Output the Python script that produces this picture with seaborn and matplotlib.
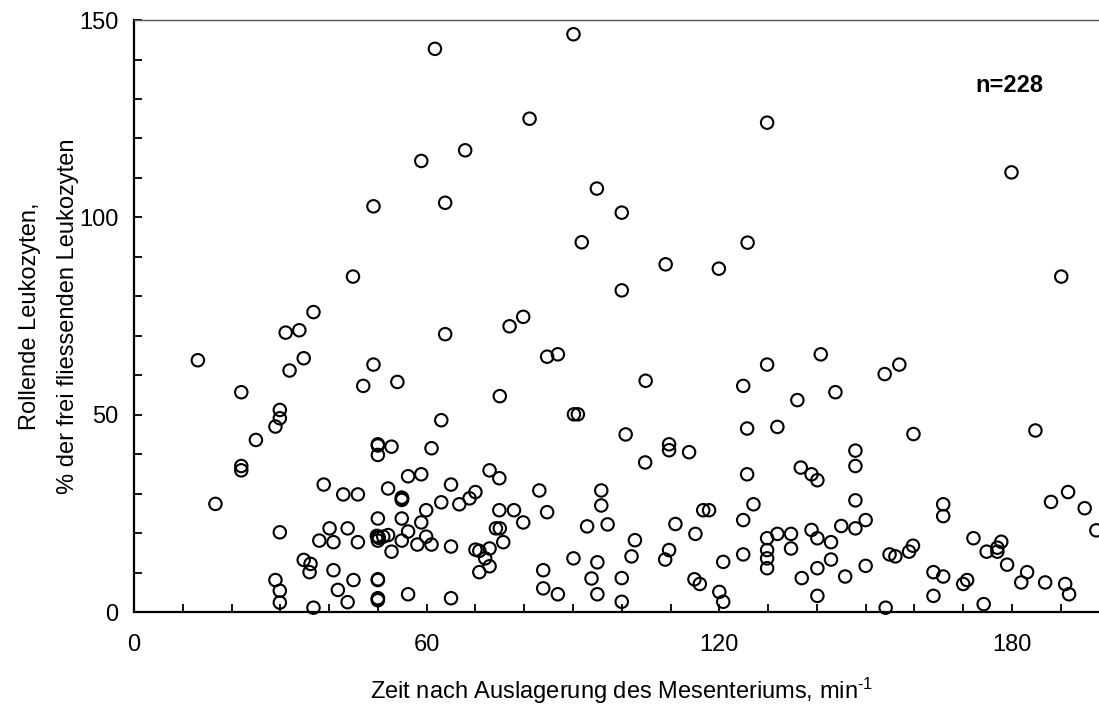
import numpy as np
import pandas as pd
import seaborn as sns
import matplotlib
matplotlib.use("Agg")
import matplotlib.pyplot as plt
from matplotlib.ticker import MultipleLocator

# time after exteriorisation of the mesentery (min) and rolling leukocytes (%)
upper_x = [61.7, 90.1, 81.1, 67.9, 58.9, 49.1, 63.8, 94.9, 100.0, 91.8, 100.0, 44.9, 36.8, 31.1,
           33.9, 63.8, 77.0, 79.8, 13.1, 31.9, 34.8, 49.1, 84.7, 86.9, 22.0, 47.0, 54.0, 75.0,
           129.8, 179.9, 125.8, 109.0, 119.9, 190.1, 104.9, 124.9, 129.8, 140.8, 136.0, 143.8,
           153.9, 156.9]
upper_y = [142.7, 146.4, 125.0, 117.0, 114.3, 102.8, 103.7, 107.3, 101.2, 93.7, 81.5, 85.0, 76.0, 70.8,
           71.4, 70.4, 72.4, 74.8, 63.8, 61.2, 64.3, 62.7, 64.7, 65.3, 55.7, 57.3, 58.3, 54.7,
           124.0, 111.4, 93.6, 88.1, 87.0, 85.0, 58.6, 57.3, 62.7, 65.3, 53.7, 55.7,
           60.3, 62.7]

early_x = [29.9, 29.9, 29.0, 25.0, 22.0, 22.0, 16.7, 29.9, 38.9, 42.9, 45.9,
           40.1, 43.8, 38.0, 40.9, 45.9, 34.8, 36.2, 36.0, 40.9, 45.0, 29.0, 29.9, 29.9, 36.8,
           41.8, 43.8]
early_y = [51.2, 49.1, 47.0, 43.6, 37.0, 35.9, 27.4, 20.2, 32.3, 29.8, 29.8,
           21.2, 21.2, 18.1, 17.7, 17.7, 13.2, 12.2, 10.1, 10.6, 8.1, 8.1, 5.4, 2.4, 1.1,
           5.6, 2.5]

mid_x = [50.0, 50.0, 52.8, 61.0, 63.0, 90.2, 91.0, 56.2, 58.9, 52.1, 65.0, 54.9, 54.9, 63.0,
         66.7, 68.8, 70.0, 72.9, 74.9, 83.1, 84.7, 95.8, 95.8, 50.0, 54.9, 59.9, 58.9, 74.9,
         77.9, 79.8, 92.9, 97.1, 74.2, 75.0, 75.7, 50.0, 51.1, 52.1, 50.0, 56.2, 54.9, 59.9,
         58.1, 61.0, 52.8, 65.0, 70.0, 70.8, 72.0, 72.9, 72.9, 70.8, 50.0, 50.0, 50.0, 56.2,
         65.0, 83.9, 83.9, 86.9, 90.1, 95.0, 93.8, 95.0,
         50.0, 50.2, 49.8, 50.0, 55.0, 50.0]
mid_y = [42.5, 39.8, 41.9, 41.5, 48.6, 50.1, 50.1, 34.4, 34.9, 31.3, 32.3, 29.0, 28.4, 27.8,
         27.3, 28.8, 30.4, 35.9, 33.9, 30.8, 25.3, 30.8, 27.0, 23.7, 23.7, 25.8, 22.7, 25.8,
         25.8, 22.7, 21.7, 22.2, 21.2, 21.2, 17.7, 19.1, 19.1, 19.5, 18.1, 20.4, 18.1, 19.1,
         17.1, 17.1, 15.3, 16.6, 15.8, 15.5, 13.6, 16.1, 11.6, 10.1, 8.1, 3.5, 3.0, 4.5,
         3.5, 10.6, 6.0, 4.5, 13.6, 12.6, 8.5, 4.5,
         3.3, 18.8, 19.3, 8.3, 28.7, 42.2]

late_x = [100.8, 109.7, 109.7, 113.8, 104.8, 125.7, 131.9, 125.7, 136.7, 138.9, 140.1, 102.7,
          102.0, 100.0, 100.0, 111.0, 109.7, 108.9, 116.7, 117.9, 115.1, 114.9, 116.0, 120.0,
          120.8, 120.8, 124.9, 127.0, 124.9, 129.8, 129.8, 129.8, 129.8, 131.9, 134.7, 134.7,
          138.9, 140.1, 142.9, 145.0, 142.9, 140.1, 136.9, 140.1, 145.8]
late_y = [45.0, 42.5, 41.0, 40.5, 37.9, 46.5, 46.9, 34.9, 36.6, 34.9, 33.4, 18.2,
          14.1, 8.6, 2.6, 22.3, 15.7, 13.3, 25.8, 25.8, 19.8, 8.3, 7.1, 5.1,
          2.6, 12.7, 23.3, 27.3, 14.6, 18.7, 15.7, 13.6, 11.1, 19.8, 19.8, 16.1,
          20.8, 18.7, 17.7, 21.8, 13.3, 11.1, 8.6, 4.1, 9.0]

end_x = [147.9, 147.9, 147.9, 159.8, 184.8, 147.9, 150.0, 165.9, 165.9, 191.5, 188.0, 194.9,
         197.3, 172.1, 177.8, 177.0, 177.0, 174.8, 179.0, 154.9, 156.1, 158.9, 159.7, 150.0,
         163.9, 165.9, 163.9, 170.0, 170.8, 174.2, 154.1, 183.1, 181.9, 186.8, 190.9, 191.7]
end_y = [40.9, 37.0, 28.3, 45.1, 46.0, 21.2, 23.3, 27.3, 24.3, 30.4, 27.9, 26.3,
         20.7, 18.7, 17.8, 16.3, 15.3, 15.3, 12.0, 14.6, 14.1, 15.3, 16.8, 11.7,
         10.1, 9.0, 4.1, 7.1, 8.1, 2.0, 1.1, 10.1, 7.5, 7.5, 7.1, 4.5]

df = pd.DataFrame({
    "zeit": upper_x + early_x + mid_x + late_x + end_x,
    "rollend": upper_y + early_y + mid_y + late_y + end_y,
})

sns.set_style("ticks")
plt.rcParams["font.family"] = ["Liberation Sans", "DejaVu Sans"]
plt.rcParams["mathtext.fontset"] = "custom"
plt.rcParams["mathtext.rm"] = "Liberation Sans"
plt.rcParams["mathtext.it"] = "Liberation Sans"
for key in ["text.color", "axes.labelcolor", "xtick.color", "ytick.color"]:
    plt.rcParams[key] = "black"

fig = plt.figure(figsize=(10.99, 7.11), dpi=100)
# right spine sits just outside the picture, as in the original
ax = fig.add_axes([0.1219, 0.1392, 0.8877, 0.8326])

sns.scatterplot(data=df, x="zeit", y="rollend", ax=ax, marker="o", s=80,
                facecolor="none", edgecolor="black", linewidth=1.5, zorder=3,
                clip_on=False)

ax.set_xlim(0, 200)
ax.set_ylim(0, 150)
ax.xaxis.set_major_locator(MultipleLocator(60))
ax.xaxis.set_minor_locator(MultipleLocator(10))
ax.yaxis.set_major_locator(MultipleLocator(50))
ax.yaxis.set_minor_locator(MultipleLocator(10))
ax.tick_params(which="both", direction="in", length=6, width=1.3, color="black")
ax.tick_params(axis="x", which="major", pad=16, labelsize=17)
ax.tick_params(axis="y", which="major", pad=11, labelsize=17)

for side in ["left", "bottom"]:
    ax.spines[side].set_linewidth(1.6)
    ax.spines[side].set_color("black")
ax.spines["top"].set_linewidth(1.0)
ax.spines["top"].set_color("#555555")
ax.spines["right"].set_visible(False)

ax.set_xlabel("Zeit nach Auslagerung des Mesenteriums, min$^{\\text{-1}}$", fontsize=17, labelpad=14)
ax.set_ylabel("Rollende Leukozyten,\n% der frei fliessenden Leukozyten", fontsize=17,
              labelpad=0, linespacing=1.95)

ax.text(179.5, 133.5, "n=228", fontsize=17, fontweight="bold", ha="center", va="center")

fig.savefig("out.png", dpi=100)
